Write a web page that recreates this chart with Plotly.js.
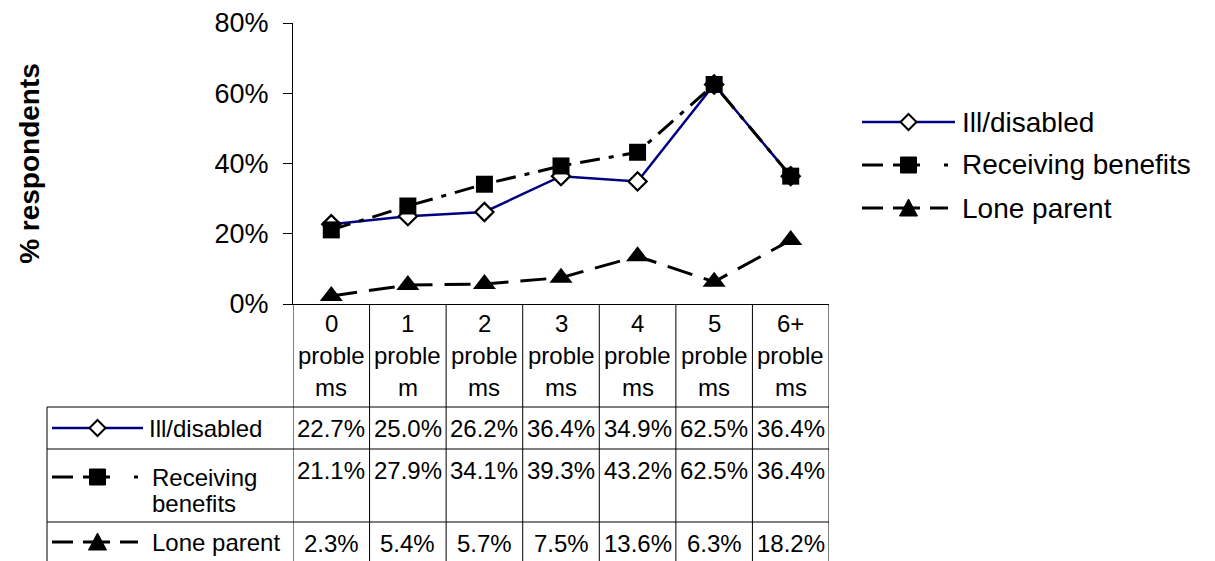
<!DOCTYPE html>
<html>
<head>
<meta charset="utf-8">
<script src="https://cdn.plot.ly/plotly-3.0.1.min.js"></script>
<style>html,body{margin:0;padding:0;background:#fff;}#chart{width:1215px;height:561px;}</style>
</head>
<body>
<div id="chart"></div>
<script>
// ---- data ----
const categories = ["0 problems","1 problem","2 problems","3 problems","4 problems","5 problems","6+ problems"];
const headerLines = [["0","proble","ms"],["1","proble","m"],["2","proble","ms"],["3","proble","ms"],["4","proble","ms"],["5","proble","ms"],["6+","proble","ms"]];
const illDisabled = [22.7, 25.0, 26.2, 36.4, 34.9, 62.5, 36.4];
const receivingBenefits = [21.1, 27.9, 34.1, 39.3, 43.2, 62.5, 36.4];
const loneParent = [2.3, 5.4, 5.7, 7.5, 13.6, 6.3, 18.2];
const seriesNames = ["Ill/disabled", "Receiving benefits", "Lone parent"];

// ---- geometry helpers (pixel -> paper) ----
const W = 1215, H = 561, L = 293, R = 829, T = 23, B = 304;
const pw = R - L, ph = B - T;
const fx = px => (px - L) / pw;
const fy = py => (B - py) / ph;
const FONT = "Liberation Sans, Arial, sans-serif";

const styles = [
  {line:{color:"#000080", width:2.5, dash:"solid"}, marker:{symbol:"diamond", size:14, color:"#ffffff", line:{color:"#000000", width:2.2}}, key:"diamond", keyColor:"#000080", keyDash:"solid"},
  {line:{color:"#000000", width:3, dash:"20px,9px,5px,9px"}, marker:{symbol:"square", size:17, color:"#000000"}, key:"square", keyColor:"#000000", keyDash:"21px,10px,27px,24px,4px,40px"},
  {line:{color:"#000000", width:3, dash:"26px,12px"}, marker:{symbol:"triangle-up", size:20, color:"#000000"}, key:"triangle", keyColor:"#000000", keyDash:"21px,10px,27px,10px,18px,40px"}
];
const seriesData = [illDisabled, receivingBenefits, loneParent];

const traces = seriesData.map((vals, i) => ({
  type: "scatter", mode: "lines+markers", name: seriesNames[i],
  x: categories, y: vals.map(v => v / 100),
  line: styles[i].line, marker: styles[i].marker,
  showlegend: false, cliponaxis: false
}));

const shapes = [];
const annotations = [];

function markerShape(kind, cx, cy) {
  let p;
  if (kind === "diamond") {
    p = [[cx-8,cy],[cx,cy-8],[cx+8,cy],[cx,cy+8]];
    return {type:"path", xref:"paper", yref:"paper", path: "M" + p.map(q => fx(q[0]) + "," + fy(q[1])).join(" L") + " Z", fillcolor:"#ffffff", line:{color:"#000000", width:2}};
  } else if (kind === "square") {
    return {type:"rect", xref:"paper", yref:"paper", x0:fx(cx-8), x1:fx(cx+8), y0:fy(cy+8), y1:fy(cy-8), fillcolor:"#000000", line:{color:"#000000", width:1}};
  } else {
    p = [[cx-9,cy+8],[cx,cy-9],[cx+9,cy+8]];
    return {type:"path", xref:"paper", yref:"paper", path: "M" + p.map(q => fx(q[0]) + "," + fy(q[1])).join(" L") + " Z", fillcolor:"#000000", line:{color:"#000000", width:1}};
  }
}
function addKey(i, x0, x1, y) {
  shapes.push({type:"line", xref:"paper", yref:"paper", x0:fx(x0), x1:fx(x1), y0:fy(y), y1:fy(y), line:{color:styles[i].keyColor, width:i===0?2.5:3, dash:styles[i].keyDash}});
  shapes.push(markerShape(styles[i].key, (x0 + x1) / 2, y));
}
function addText(text, px, py, size, anchor) {
  annotations.push({text:text, xref:"paper", yref:"paper", x:fx(px), y:fy(py), xanchor:anchor||"left", yanchor:"middle", showarrow:false, font:{family:FONT, size:size, color:"#000"}});
}

// ---- right-hand legend ----
const legendY = [122, 165, 208];
seriesNames.forEach((n, i) => {
  addKey(i, 862, 955, legendY[i]);
  addText(n, 960, legendY[i], 28);
});

// ---- data table ----
// horizontal rules
[407, 449, 522].forEach(py => shapes.push({type:"line", xref:"paper", yref:"paper", x0:fx(47), x1:1, y0:fy(py), y1:fy(py), line:{color:"#000", width:1}}));
// vertical rules (data coordinates on category axis)
for (let k = 0; k <= categories.length; k++) {
  shapes.push({type:"line", xref:"x", yref:"paper", x0:k - 0.5, x1:k - 0.5, y0:0, y1:fy(561), line:{color:"#000", width:1}});
}
shapes.push({type:"line", xref:"paper", yref:"paper", x0:fx(47), x1:fx(47), y0:fy(407), y1:fy(561), line:{color:"#000", width:1}});

// header labels
const headerY = [323, 355, 387];
headerLines.forEach((lines, c) => {
  lines.forEach((t, j) => {
    annotations.push({text:t, xref:"x", yref:"paper", x:c, y:fy(headerY[j]), xanchor:"center", yanchor:"middle", showarrow:false, font:{family:FONT, size:24, color:"#000"}});
  });
});
// row values
const rowValueY = [428, 470, 543];
seriesData.forEach((vals, i) => {
  vals.forEach((v, c) => {
    annotations.push({text:v.toFixed(1) + "%", xref:"x", yref:"paper", x:c, y:fy(rowValueY[i]), xanchor:"center", yanchor:"middle", showarrow:false, font:{family:FONT, size:24, color:"#000"}});
  });
});
// row labels with keys
addKey(0, 52, 143, 428);
addText("Ill/disabled", 147, 428, 24);
addKey(1, 52, 143, 477);
addText("Receiving", 150, 477, 24);
addText("benefits", 150, 503, 24);
addKey(2, 52, 143, 542);
addText("Lone parent", 150, 542, 24);

const layout = {
  width: W, height: H,
  margin: {l: L, r: W - R, t: T, b: H - B, pad: 0},
  paper_bgcolor: "#fff", plot_bgcolor: "#fff",
  font: {family: FONT, color: "#000"},
  showlegend: false,
  xaxis: {type:"category", range:[-0.5, 6.5], showticklabels:false, ticks:"", showgrid:false, zeroline:false, showline:true, linecolor:"#000", linewidth:1, fixedrange:true},
  yaxis: {range:[0, 0.8], dtick:0.2, tickformat:".0%", ticks:"outside", ticklen:9, tickcolor:"#000", tickwidth:1,
          showline:true, linecolor:"#000", linewidth:1, showgrid:false, zeroline:false,
          tickfont:{family:FONT, size:27, color:"#000"}, ticklabelstandoff:9,
          title:{text:"% respondents", font:{family:FONT, size:28, color:"#000", weight:700}, standoff:166}},
  shapes: shapes,
  annotations: annotations
};

Plotly.newPlot("chart", traces, layout, {displayModeBar:false, staticPlot:true});
</script>
</body>
</html>
